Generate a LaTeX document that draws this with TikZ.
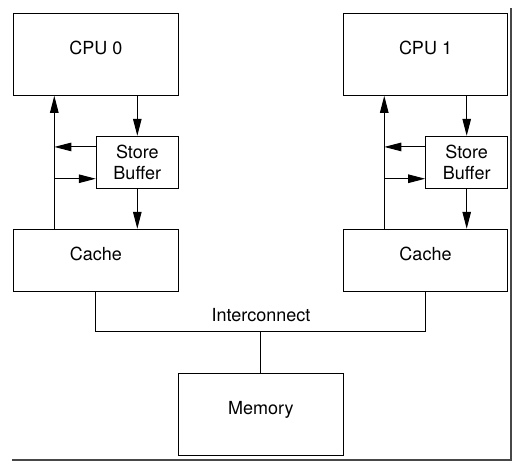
\documentclass[tikz,border=0pt]{standalone}
\usepackage{fontspec}
\setmainfont{TeX Gyre Heros}
\usetikzlibrary{arrows.meta,calc}
\tikzset{
  box/.style={draw=black, line width=1pt, rectangle, inner sep=0pt,
    font=\fontsize{18}{21}\selectfont, align=center},
  onebox/.style={box, text height=12pt, text depth=11pt},
  arr/.style={line width=1pt, -{Triangle[length=17pt,width=8.5pt]}},
  wire/.style={line width=1pt},
  shadowline/.style={line width=2pt, draw=black!72}
}
\begin{document}
\begin{tikzpicture}[x=1pt,y=-1pt]
\useasboundingbox (0,0) rectangle (513,461);
\fill[white] (0,0) rectangle (513,461);
% page shadow
\draw[shadowline] (12,460) -- (511,460) -- (511,8);

% left side
\node[onebox, minimum width=165pt, minimum height=82pt] (cpu0) at (95.8,54.3) {CPU 0};
\node[box, minimum width=82pt, minimum height=52pt] (sb0) at (137.3,162.3) {Store\\Buffer};
\node[onebox, minimum width=165pt, minimum height=62pt] (cache0) at (95.8,260.3) {Cache};

% right side
\node[onebox, minimum width=164pt, minimum height=82pt] (cpu1) at (425.5,54.3) {CPU 1};
\node[box, minimum width=82pt, minimum height=52pt] (sb1) at (466.7,162.3) {Store\\Buffer};
\node[onebox, minimum width=164pt, minimum height=62pt] (cache1) at (425.5,260.3) {Cache};

% memory
\node[onebox, minimum width=165pt, minimum height=82pt] (mem) at (260.8,414.3) {Memory};

% bus coordinates
\coordinate (bus0) at ($(cache0.north west)!0.25!(cache0.north east)$);
\coordinate (bus1) at ($(cache1.north west)!0.25!(cache1.north east)$);
\coordinate (sbo0) at ($(sb0.north west)!0.21!(sb0.south west)$);
\coordinate (sbi0) at ($(sb0.north west)!0.81!(sb0.south west)$);
\coordinate (sbo1) at ($(sb1.north west)!0.21!(sb1.south west)$);
\coordinate (sbi1) at ($(sb1.north west)!0.81!(sb1.south west)$);

% left connectors
\draw[arr] (cpu0.south -| sb0.north) -- (sb0.north);
\draw[arr] (sb0.south) -- (sb0.south |- cache0.north);
\draw[arr] (bus0) -- (bus0 |- cpu0.south);
\draw[arr] (sbo0) -- (sbo0 -| bus0);
\draw[arr] (sbi0 -| bus0) -- (sbi0);

% right connectors
\draw[arr] (cpu1.south -| sb1.north) -- (sb1.north);
\draw[arr] (sb1.south) -- (sb1.south |- cache1.north);
\draw[arr] (bus1) -- (bus1 |- cpu1.south);
\draw[arr] (sbo1) -- (sbo1 -| bus1);
\draw[arr] (sbi1 -| bus1) -- (sbi1);

% interconnect
\coordinate (icm) at ($(mem.north)+(0,-41)$);
\draw[wire] (cache0.south) |- (icm) -| (cache1.south);
\draw[wire] (mem.north) -- (icm);
\node[font=\fontsize{18}{21}\selectfont, anchor=base, inner sep=0pt] (ic) at (261,321.7) {Interconnect};
\end{tikzpicture}
\end{document}
